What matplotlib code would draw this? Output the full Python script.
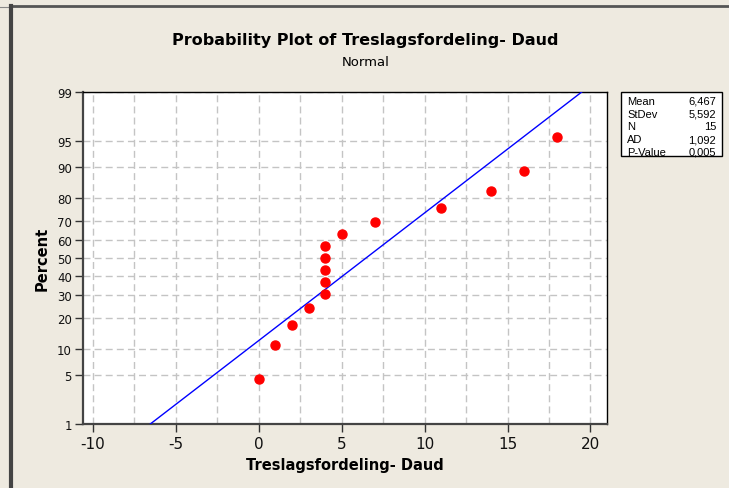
from statistics import NormalDist
import matplotlib
matplotlib.use("Agg")
import matplotlib.pyplot as plt
from matplotlib.lines import Line2D
from matplotlib.patches import Rectangle
import numpy as np

# data (Treslagsfordeling- Daud)
values = [0, 1, 2, 3, 4, 4, 4, 4, 4, 5, 7, 11, 14, 16, 18]
y_ticks = [1, 5, 10, 20, 30, 40, 50, 60, 70, 80, 90, 95, 99]
x_ticks = [-10, -5, 0, 5, 10, 15, 20]
stat_names = ["Mean", "StDev", "N", "AD", "P-Value"]
stat_values = ["6,467", "5,592", "15", "1,092", "0,005"]

mean = 6.467
sd = 5.592
n = len(values)

# median ranks, like minitab
pct = [(i - 0.3) / (n + 0.4) * 100 for i in range(1, n + 1)]

nd = NormalDist()
_ppf = np.vectorize(lambda p: nd.inv_cdf(p), otypes=[float])
_cdf = np.vectorize(lambda z: nd.cdf(z), otypes=[float])


def fwd(p):
    p = np.clip(np.asarray(p, dtype=float) / 100.0, 1e-9, 1 - 1e-9)
    return _ppf(p)


def inv(z):
    return _cdf(np.asarray(z, dtype=float)) * 100.0


bg = "#EEEAE0"
fig = plt.figure(figsize=(7.29, 4.89), dpi=100, facecolor=bg)
ax = fig.add_axes([83 / 729, 1 - 425 / 489, (607 - 83) / 729, (425 - 93) / 489])
ax.set_facecolor("white")
ax.set_yscale("function", functions=(fwd, inv))

# fitted line from 1% to 99%
line_p = np.array([1.0, 99.0])
line_x = mean + sd * fwd(line_p)
ax.plot(line_x, line_p, color="#0000FF", lw=1.0, zorder=3)
ax.plot(values, pct, "o", color="#FF0000", ms=6.5, mec="#FF0000", zorder=4)

ax.set_xlim(-10.6, 21.0)
ax.set_ylim(1, 99)
ax.set_yticks(y_ticks)
ax.set_yticklabels([str(t) for t in y_ticks])
ax.set_xticks(x_ticks)
ax.set_xticklabels([str(t) for t in x_ticks])
ax.set_xticks(np.arange(-10, 20.1, 2.5), minor=True)
ax.yaxis.set_minor_locator(matplotlib.ticker.NullLocator())
ax.tick_params(axis="x", which="minor", length=0)
ax.tick_params(axis="both", which="major", direction="out", length=6, width=1,
               color="#333333", labelcolor="#111111")
ax.tick_params(axis="x", which="major", labelsize=11, pad=3)
ax.tick_params(axis="y", which="major", labelsize=8.5, pad=2)
ax.grid(True, which="both", axis="x", color="#C4C4C4", ls=(0, (5, 3)), lw=1)
ax.grid(True, which="major", axis="y", color="#C4C4C4", ls=(0, (5, 3)), lw=1)
ax.set_axisbelow(True)

for s in ["left", "bottom"]:
    ax.spines[s].set_color("#444444")
    ax.spines[s].set_linewidth(1.6)
for s in ["top", "right"]:
    ax.spines[s].set_color("#000000")
    ax.spines[s].set_linewidth(1.0)

ax.set_xlabel("Treslagsfordeling- Daud", fontsize=10.5, fontweight="bold", labelpad=4)
ax.set_ylabel("Percent", fontsize=10.5, fontweight="bold", labelpad=5)

fig.text(365 / 729, 1 - 40 / 489, "Probability Plot of Treslagsfordeling- Daud",
         ha="center", va="center", fontsize=11.5, fontweight="bold")
fig.text(366 / 729, 1 - 62 / 489, "Normal", ha="center", va="center", fontsize=9.5)

# stats box
fig.patches.append(Rectangle((621 / 729, 1 - 157 / 489), 101 / 729, 64 / 489,
                             transform=fig.transFigure, facecolor="white",
                             edgecolor="black", lw=1))
for i, (nm, v) in enumerate(zip(stat_names, stat_values)):
    yy = 1 - (102 + i * 12.7) / 489
    fig.text(627 / 729, yy, nm, ha="left", va="center", fontsize=8,
             family="Liberation Sans")
    fig.text(716 / 729, yy, v, ha="right", va="center", fontsize=8,
             family="Liberation Sans")

# window frame lines
fig.lines.append(Line2D([11 / 729, 1], [1 - 7 / 489, 1 - 7 / 489], transform=fig.transFigure,
                        color="#555555", lw=2))
fig.lines.append(Line2D([0, 9 / 729], [1 - 8 / 489, 1 - 8 / 489], transform=fig.transFigure,
                        color="#888888", lw=0.8))
fig.lines.append(Line2D([10.5 / 729, 10.5 / 729], [0, 1 - 7 / 489], transform=fig.transFigure,
                        color="#444444", lw=3))

fig.savefig("out.png", dpi=100, facecolor=bg)
